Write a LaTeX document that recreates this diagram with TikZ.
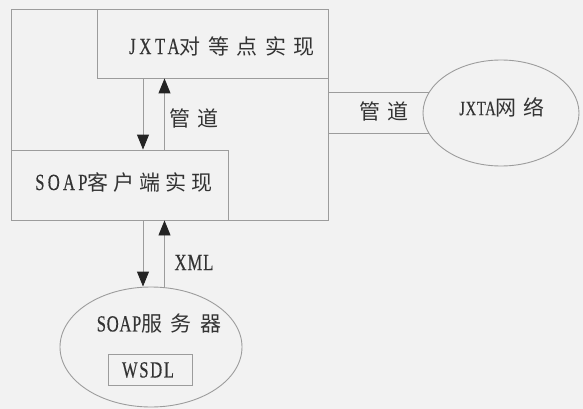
\documentclass[tikz,border=0pt]{standalone}
\usepackage{fontspec}
\setmainfont{Noto Sans CJK SC}
\newfontfamily\latinface[Scale=1.1,FakeStretch=0.72,FakeBold=0.3]{Liberation Serif}
\usetikzlibrary{arrows.meta,calc,positioning,shapes.geometric}
\definecolor{SoapLine}{HTML}{9C9C9C}
\definecolor{SoapInk}{HTML}{333333}
\definecolor{SoapTip}{HTML}{242424}
\definecolor{SoapPaper}{HTML}{F2F2F2}
\tikzset{
  soapbox/.style={draw=SoapLine,line width=0.9pt,rectangle,inner sep=0pt},
  soapcloud/.style={draw=SoapLine,line width=0.9pt,ellipse,inner sep=0pt},
  soaptext/.style={text=SoapInk,inner sep=0pt,
    font=\fontsize{21}{24}\selectfont\addfontfeature{LetterSpace=#1}},
  soaptext/.default=30,
  soapflow/.style={draw=SoapLine,line width=0.9pt,
    -{Triangle[length=15pt,width=12pt,color=SoapTip]}},
  soappipe/.style={draw=SoapLine,line width=0.9pt}
}

\begin{document}
\begin{tikzpicture}[x=1pt,y=-1pt]
        \fill[SoapPaper] (0,0) rectangle (583,409);
        \useasboundingbox (0,0) rectangle (583,409);

        \node[soapbox,minimum width=317pt,minimum height=211pt]
          (host) at (169.5,114.5) {};
        \node[soapbox,minimum width=231pt,minimum height=69pt]
          (peer) at (212.5,43.5) {};
        \node[soaptext=36] (peerlabel) at (222,46)
          {{\latinface\addfontfeature{LetterSpace=16}JXTA}对等点实现};
        \node[soapbox,minimum width=217pt,minimum height=70pt]
          (client) at (119.5,185) {};
        \node[soaptext=24] (clientlabel) at (124,182)
          {{\latinface\addfontfeature{LetterSpace=14}SOAP}客户端实现};

        \node[soapcloud,minimum width=156pt,minimum height=106pt]
          (net) at (501,113) {};
        \node[soaptext=33] (netlabel) at (502,107)
          {{\latinface\fontsize{18.5}{21}\selectfont
            \addfontfeature{LetterSpace=3}JXTA}网络};

        \node[soapcloud,minimum width=182pt,minimum height=120pt]
          (server) at (151,347) {};
        \node[soaptext=40] (serverlabel) at (159,323.5)
          {{\latinface\addfontfeature{LetterSpace=3}SOAP}服务器};
        \node[soapbox,minimum width=84pt,minimum height=31pt]
          (wsdl) at (150,370) {};
        \node[soaptext] (wsdllabel) at (148,370)
          {{\latinface\addfontfeature{LetterSpace=7}WSDL}};

        \coordinate (downA) at (143,0);
        \coordinate (upA) at (164.5,0);
        \draw[soapflow] (downA |- peer.south) -- (downA |- client.north);
        \draw[soapflow] (upA |- client.north) -- (upA |- peer.south);
        \node[soaptext=29] (pipeA) at (194,118) {管道};

        \draw[soapflow] (downA |- host.south) -- (downA |- server.north);
        \draw[soapflow] (upA |- server.north) -- (upA |- host.south);
        \node[soaptext] (xml) at (194,262.5)
          {{\latinface\addfontfeature{LetterSpace=4}XML}};

        \draw[soappipe] (host.east |- net.164) -- (net.164);
        \draw[soappipe] (host.east |- net.196) -- (net.196);
        \node[soaptext=29] (pipeB) at (384,111) {管道};
      \end{tikzpicture}
\end{document}
